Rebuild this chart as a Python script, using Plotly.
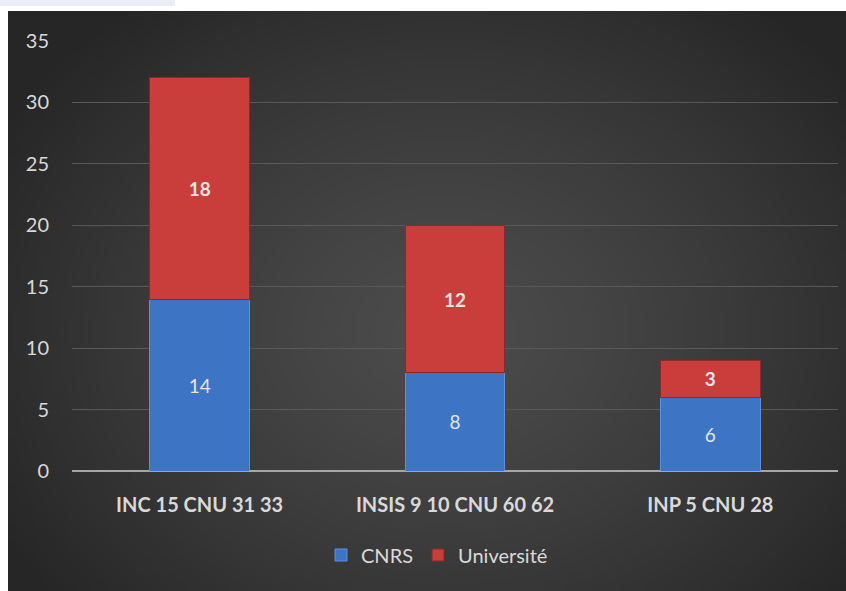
import base64, struct, zlib
import numpy as np
import plotly.graph_objects as go

categories = ["INC 15 CNU 31 33", "INSIS 9 10 CNU 60 62", "INP 5 CNU 28"]
cnrs = [14, 8, 6]
universite = [18, 12, 3]
y_ticks = [0, 5, 10, 15, 20, 25, 30, 35]

W, H = 846, 591
L, R, T, B = 72, 8, 41, 120
pw, ph = W - L - R, H - T - B

# radial gradient background as png
gw, gh = 210, 145
yy, xx = np.mgrid[0:gh, 0:gw]
cx, cy = gw * 0.52, gh * 0.55
d = np.sqrt(((xx - cx) / (gw * 0.62)) ** 2 + ((yy - cy) / (gh * 0.72)) ** 2)
d = np.clip(d, 0, 1)
c_in, c_out = 76, 38
v = (c_in + (c_out - c_in) * d ** 1.3).astype(np.uint8)
rgb = np.stack([v, v, v], axis=-1)

def make_png(arr):
    h, w, _ = arr.shape
    raw = b"".join(b"\x00" + arr[i].tobytes() for i in range(h))
    def chunk(t, data):
        c = struct.pack(">I", len(data)) + t + data
        return c + struct.pack(">I", zlib.crc32(t + data) & 0xffffffff)
    return (b"\x89PNG\r\n\x1a\n" + chunk(b"IHDR", struct.pack(">IIBBBBB", w, h, 8, 2, 0, 0, 0))
            + chunk(b"IDAT", zlib.compress(raw, 9)) + chunk(b"IEND", b""))

img_uri = "data:image/png;base64," + base64.b64encode(make_png(rgb)).decode()

def px_x(p):
    return (p - L) / pw

def px_y(p):
    return (H - B - p) / ph

font = "Lato, 'Open Sans', sans-serif"

fig = go.Figure()
fig.add_trace(go.Bar(
    name="CNRS", x=categories, y=cnrs,
    marker=dict(color="#3d74c4", line=dict(color="#5a92e0", width=1)),
    text=cnrs, textposition="inside", insidetextanchor="middle",
    textfont=dict(color="#e4e4e4", size=19, family=font),
    width=0.39,
))
fig.add_trace(go.Bar(
    name="Université", x=categories, y=universite,
    marker=dict(color="#c93d3b", line=dict(color="#8a2a28", width=1)),
    text=universite, texttemplate="<b>%{text}</b>", textposition="inside", insidetextanchor="middle",
    textfont=dict(color="#e4e4e4", size=19, family=font),
    width=0.39,
))

fig.add_layout_image(dict(
    source=img_uri, xref="paper", yref="paper",
    x=px_x(8), y=px_y(11), sizex=px_x(846) - px_x(8), sizey=px_y(11) - px_y(591),
    xanchor="left", yanchor="top", sizing="stretch", layer="below",
))

fig.update_layout(
    width=W, height=H,
    margin=dict(l=L, r=R, t=T, b=B),
    paper_bgcolor="white", plot_bgcolor="rgba(0,0,0,0)",
    barmode="stack",
    showlegend=True,
    legend=dict(orientation="h", x=px_x(437), xanchor="center", y=px_y(555), yanchor="middle",
                font=dict(color="#d9d9d9", size=20, family=font), bgcolor="rgba(0,0,0,0)",
                traceorder="normal"),
    xaxis=dict(showgrid=False, tickfont=dict(color="#d9d9d9", size=20, family=font, weight="bold"),
               showline=False, ticks="", zeroline=False, ticklabelstandoff=20),
    yaxis=dict(range=[0, 35], tickvals=y_ticks, showgrid=True, gridcolor="#595959", gridwidth=1,
               tickfont=dict(color="#d9d9d9", size=20, family=font), ticks="", ticklen=0,
               zeroline=True, zerolinecolor="#a6a6a6", zerolinewidth=2, showline=False,
               ticklabelstandoff=22),
    shapes=[dict(type="rect", xref="paper", yref="paper", x0=px_x(0), x1=px_x(175),
                 y0=px_y(6), y1=px_y(0), fillcolor="#e9edf6", line=dict(width=0), layer="below")],
)

fig.write_html("out.html")
